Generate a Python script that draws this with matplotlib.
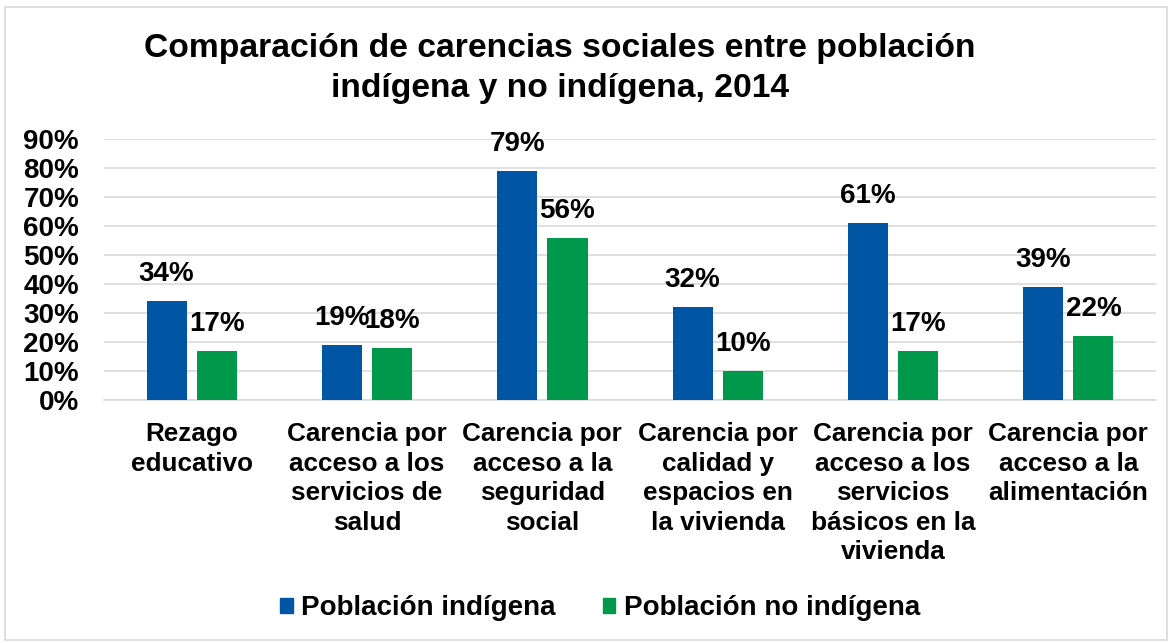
import matplotlib.pyplot as plt
import numpy as np
from matplotlib.patches import Rectangle, Patch

plt.rcParams['font.family'] = ['Liberation Sans', 'DejaVu Sans']
plt.rcParams['font.weight'] = 'bold'

# data
categorias = ["Rezago\neducativo",
              "Carencia por\nacceso a los\nservicios de\nsalud",
              "Carencia por\nacceso a la\nseguridad\nsocial",
              "Carencia por\ncalidad y\nespacios en\nla vivienda",
              "Carencia por\nacceso a los\nservicios\nbásicos en la\nvivienda",
              "Carencia por\nacceso a la\nalimentación"]
indigena = [34, 19, 79, 32, 61, 39]
no_indigena = [17, 18, 56, 10, 17, 22]
series = ["Población indígena", "Población no indígena"]
yticks = [0, 10, 20, 30, 40, 50, 60, 70, 80, 90]

azul = "#0055A5"
verde = "#00984A"

fig = plt.figure(figsize=(11.73, 6.43), dpi=100)
ax = fig.add_axes([0.0887, 0.378, 0.8968, 0.406])

x = np.arange(len(categorias))
w = 0.229
off = 0.143
b1 = ax.bar(x - off, indigena, w, color=azul, zorder=3)
b2 = ax.bar(x + off, no_indigena, w, color=verde, zorder=3)

for bars, vals in ((b1, indigena), (b2, no_indigena)):
    for b, v in zip(bars, vals):
        ax.annotate(f"{v}%", (b.get_x() + b.get_width() / 2, v),
                    xytext=(0, 10), textcoords="offset points",
                    ha="center", va="bottom", fontsize=20, fontweight="bold")

ax.set_xlim(-0.5, len(categorias) - 0.5)
ax.set_ylim(0, 90)
ax.set_yticks(yticks)
ax.set_yticklabels([f"{t}%" for t in yticks], fontsize=20, fontweight="bold")
ax.set_xticks(x)
ax.set_xticklabels(categorias, fontsize=18.8, fontweight="bold", linespacing=1.29, va="top")
ax.tick_params(axis="both", length=0)
ax.tick_params(axis="x", pad=16)
ax.tick_params(axis="y", pad=18)
ax.yaxis.grid(True, color="#D9D9D9", linewidth=1.2, zorder=0)
for s in ("top", "right", "left"):
    ax.spines[s].set_visible(False)
ax.spines["bottom"].set_color("#D9D9D9")
ax.spines["bottom"].set_linewidth(1.2)

fig.text(0.4774, 0.893, "Comparación de carencias sociales entre población\nindígena y no indígena, 2014",
         ha="center", va="center", fontsize=24.2, fontweight="bold", linespacing=1.37)

handles = [Patch(color=azul), Patch(color=verde)]
fig.legend(handles, series, loc="center", bbox_to_anchor=(0.5115, 0.054), ncol=2,
           frameon=False, handlelength=0.45, handleheight=0.45,
           handletextpad=0.3, columnspacing=1.7, prop={"weight": "bold", "size": 20})

fig.patches.append(Rectangle((5 / 1173, 3 / 643), 1162 / 1173, 633 / 643,
                             transform=fig.transFigure, fill=False,
                             edgecolor="#D9D9D9", linewidth=1.2))

fig.savefig("out.png", dpi=100)
